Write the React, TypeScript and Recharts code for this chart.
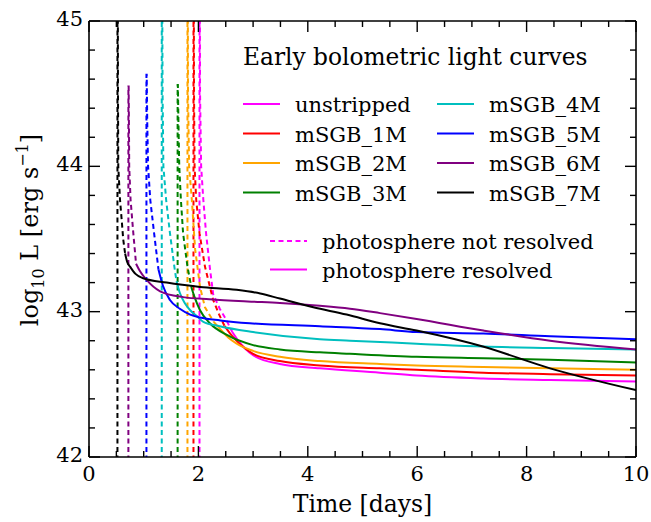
import { Legend, Line, LineChart, XAxis, YAxis } from "recharts"

const FONT = "'DejaVu Serif', serif"
const W = 651
const H = 522

// [time (days), log10 L]; dashed = photosphere not resolved, solid = resolved
const unstrippedDashed = [[2.02, 41.8], [2.02, 45.6], [2.025, 45.6], [2.03, 44.5], [2.05, 44.0], [2.09, 43.77], [2.14, 43.54], [2.21, 43.3], [2.27, 43.12], [2.39, 43.02], [2.5, 42.95], [2.62, 42.86]]
const unstrippedSolid = [[2.62, 42.86], [2.75, 42.79], [3.0, 42.7], [3.49, 42.64], [4.22, 42.61], [5.32, 42.58], [5.99, 42.56], [7.21, 42.54], [8.43, 42.53], [10, 42.52]]

const m1Dashed = [[1.91, 41.8], [1.91, 45.6], [1.915, 45.6], [1.92, 44.5], [1.93, 44.0], [1.96, 43.77], [2.02, 43.54], [2.12, 43.31], [2.27, 43.08], [2.38, 42.98], [2.48, 42.9]]
const m1Solid = [[2.48, 42.9], [2.6, 42.84], [2.75, 42.78], [3.0, 42.71], [3.49, 42.66], [4.22, 42.63], [5.32, 42.61], [5.99, 42.6], [7.21, 42.58], [8.43, 42.57], [10, 42.56]]

const m2Dashed = [[1.8, 41.8], [1.8, 45.6], [1.805, 45.6], [1.81, 44.5], [1.83, 44.0], [1.88, 43.77], [1.94, 43.43], [2.03, 43.17], [2.12, 43.03], [2.28, 42.93]]
const m2Solid = [[2.28, 42.93], [2.4, 42.88], [2.55, 42.82], [2.7, 42.78], [3.0, 42.73], [3.49, 42.69], [4.22, 42.66], [5.32, 42.64], [5.99, 42.63], [7.21, 42.62], [8.43, 42.61], [10, 42.6]]

const m3Dashed = [[1.62, 41.8], [1.62, 44.56], [1.625, 44.56], [1.635, 44.3], [1.65, 44.0], [1.68, 43.77], [1.72, 43.54], [1.8, 43.31], [1.87, 43.17]]
const m3Solid = [[1.87, 43.17], [1.93, 43.1], [2.03, 43.01], [2.21, 42.92], [2.52, 42.84], [3.0, 42.77], [3.49, 42.74], [4.22, 42.72], [4.77, 42.71], [5.99, 42.69], [7.21, 42.68], [8.43, 42.67], [10, 42.65]]

const m4Dashed = [[1.33, 41.8], [1.33, 45.6], [1.335, 45.6], [1.345, 44.5], [1.36, 44.0], [1.41, 43.77], [1.48, 43.54], [1.56, 43.31], [1.6, 43.21]]
const m4Solid = [[1.6, 43.21], [1.66, 43.13], [1.75, 43.06], [1.85, 43.01], [1.97, 42.97], [2.09, 42.93], [2.39, 42.9], [3.0, 42.86], [4.22, 42.81], [4.77, 42.8], [5.99, 42.78], [7.21, 42.76], [8.43, 42.75], [10, 42.74]]

const m5Dashed = [[1.05, 41.8], [1.05, 44.63], [1.055, 44.63], [1.065, 44.3], [1.08, 44.0], [1.12, 43.77], [1.19, 43.54], [1.27, 43.29]]
const m5Solid = [[1.27, 43.29], [1.35, 43.18], [1.48, 43.08], [1.66, 43.02], [1.85, 42.98], [2.03, 42.96], [2.4, 42.94], [2.94, 42.92], [4.22, 42.9], [5.32, 42.88], [5.99, 42.86], [7.21, 42.85], [8.43, 42.83], [10, 42.81]]

const m6Dashed = [[0.72, 41.8], [0.72, 44.55], [0.725, 44.55], [0.73, 44.3], [0.735, 44.0], [0.76, 43.77], [0.81, 43.54], [0.86, 43.33]]
const m6Solid = [[0.86, 43.33], [0.93, 43.28], [1.05, 43.22], [1.3, 43.14], [1.72, 43.1], [2.2, 43.085], [2.9, 43.07], [3.49, 43.06], [4.22, 43.04], [4.77, 43.02], [5.32, 42.99], [5.99, 42.95], [7.21, 42.87], [8.43, 42.8], [10, 42.74]]

const m7Dashed = [[0.52, 41.8], [0.52, 45.6], [0.525, 45.6], [0.53, 44.5], [0.535, 44.0], [0.567, 43.77], [0.6, 43.62], [0.625, 43.5], [0.66, 43.4]]
const m7Solid = [[0.66, 43.4], [0.7, 43.34], [0.75, 43.31], [0.85, 43.26], [0.99, 43.23], [1.42, 43.2], [2.03, 43.17], [2.7, 43.15], [3.13, 43.125], [3.49, 43.09], [4.1, 43.03], [4.71, 42.98], [5.32, 42.92], [5.99, 42.87], [7.2, 42.76], [8.43, 42.61], [10, 42.46]]

const modelNames = ["unstripped", "mSGB_1M", "mSGB_2M", "mSGB_3M", "mSGB_4M", "mSGB_5M", "mSGB_6M", "mSGB_7M"]
const modelColors = ["#ff00ff", "#ff0000", "#ffa500", "#008000", "#00bfbf", "#0000ff", "#800080", "#000000"]
const dashedSets = [unstrippedDashed, m1Dashed, m2Dashed, m3Dashed, m4Dashed, m5Dashed, m6Dashed, m7Dashed]
const solidSets = [unstrippedSolid, m1Solid, m2Solid, m3Solid, m4Solid, m5Solid, m6Solid, m7Solid]

const xMajor = [0, 2, 4, 6, 8, 10]
const yMajor = [42, 43, 44, 45]
const xTicks = Array.from({ length: 21 }, (_, i) => i * 0.5)
const yTicks = Array.from({ length: 16 }, (_, i) => Math.round((42 + i * 0.2) * 10) / 10)

const toPoints = (rows: number[][]) => rows.map(([t, L]) => ({ t, L }))

const isMajor = (majors: number[], v: number) => majors.some((m) => Math.abs(m - v) < 1e-6)

function makeTick(side: "bottom" | "top" | "left" | "right", majors: number[]) {
  return (props: any) => {
    const { x, y, payload } = props
    const major = isMajor(majors, payload.value)
    const len = major ? 11 : 6
    const line = { stroke: "#000", strokeWidth: 1.4 }
    if (side === "bottom") {
      return (
        <g>
          <line x1={x} y1={y} x2={x} y2={y - len} {...line} />
          {major && (
            <text x={x} y={y + 24} textAnchor="middle" fontFamily={FONT} fontSize={21} fill="#000">
              {payload.value}
            </text>
          )}
        </g>
      )
    }
    if (side === "top") return <line x1={x} y1={y} x2={x} y2={y + len} {...line} />
    if (side === "left") {
      return (
        <g>
          <line x1={x} y1={y} x2={x + len} y2={y} {...line} />
          {major && (
            <text x={x - 6} y={y + 5} textAnchor="end" fontFamily={FONT} fontSize={21} fill="#000">
              {payload.value}
            </text>
          )}
        </g>
      )
    }
    return <line x1={x} y1={y} x2={x - len} y2={y} {...line} />
  }
}

function XTitle(props: any) {
  const { x, y, width } = props.viewBox
  return (
    <text x={x + width / 2} y={y + 55} textAnchor="middle" fontFamily={FONT} fontSize={23.5} fill="#000">
      Time [days]
    </text>
  )
}

function YTitle(props: any) {
  const { x, y, height } = props.viewBox
  const cx = x - 50
  const cy = y + height / 2 - 9
  return (
    <text x={cx} y={cy} transform={`rotate(-90 ${cx} ${cy})`} textAnchor="middle" fontFamily={FONT} fontSize={24} fill="#000">
      log
      <tspan fontSize={16} dy={6}>10</tspan>
      <tspan dy={-6}> L [erg s</tspan>
      <tspan fontSize={16} dy={-10}>−1</tspan>
      <tspan dy={10}>]</tspan>
    </text>
  )
}

function LegendBox() {
  const rowY = [104, 133.5, 163, 192.5]
  return (
    <svg width={W} height={H} style={{ position: "absolute", left: 0, top: 0 }}>
      <text x={243} y={65} fontFamily={FONT} fontSize={23.3} fill="#000">
        Early bolometric light curves
      </text>
      {modelNames.map((name, i) => {
        const col = i < 4 ? 0 : 1
        const ly = rowY[i % 4]
        const lx = col === 0 ? 243 : 437
        return (
          <g key={name}>
            <line x1={lx} y1={ly} x2={lx + 37} y2={ly} stroke={modelColors[i]} strokeWidth={2} />
            <text x={lx + 52} y={ly + 8} fontFamily={FONT} fontSize={21} fill="#000">
              {name}
            </text>
          </g>
        )
      })}
      <line x1={270} y1={241} x2={307} y2={241} stroke="#ff00ff" strokeWidth={2} strokeDasharray="5 3.5" />
      <text x={322} y={249} fontFamily={FONT} fontSize={21} fill="#000">
        photosphere not resolved
      </text>
      <line x1={270} y1={269.5} x2={307} y2={269.5} stroke="#ff00ff" strokeWidth={2} />
      <text x={322} y={277.5} fontFamily={FONT} fontSize={21} fill="#000">
        photosphere resolved
      </text>
    </svg>
  )
}

export default function App() {
  return (
    <div style={{ position: "absolute", left: 0, top: 0, width: W, height: H, background: "#fff" }}>
      <LineChart width={W} height={H} margin={{ top: 20, right: 14, bottom: 64, left: 88 }}>
        <XAxis
          xAxisId="b"
          type="number"
          dataKey="t"
          domain={[0, 10]}
          ticks={xTicks}
          interval={0}
          allowDataOverflow
          height={1}
          tickSize={0}
          tickMargin={0}
          tick={makeTick("bottom", xMajor)}
          tickLine={false}
          axisLine={{ stroke: "#000", strokeWidth: 1.6 }}
          label={{ content: XTitle }}
        />
        <XAxis
          xAxisId="t"
          orientation="top"
          type="number"
          dataKey="t"
          domain={[0, 10]}
          ticks={xTicks}
          interval={0}
          allowDataOverflow
          height={1}
          tickSize={0}
          tickMargin={0}
          tick={makeTick("top", xMajor)}
          tickLine={false}
          axisLine={{ stroke: "#000", strokeWidth: 1.6 }}
        />
        <YAxis
          yAxisId="l"
          type="number"
          dataKey="L"
          domain={[42, 45]}
          ticks={yTicks}
          interval={0}
          allowDataOverflow
          width={1}
          tickSize={0}
          tickMargin={0}
          tick={makeTick("left", yMajor)}
          tickLine={false}
          axisLine={{ stroke: "#000", strokeWidth: 1.6 }}
          label={{ content: YTitle }}
        />
        <YAxis
          yAxisId="r"
          orientation="right"
          type="number"
          dataKey="L"
          domain={[42, 45]}
          ticks={yTicks}
          interval={0}
          allowDataOverflow
          width={1}
          tickSize={0}
          tickMargin={0}
          tick={makeTick("right", yMajor)}
          tickLine={false}
          axisLine={{ stroke: "#000", strokeWidth: 1.6 }}
        />
        {modelNames.map((name, i) => [
          <Line
            key={name + "-d"}
            xAxisId="b"
            yAxisId="l"
            data={toPoints(dashedSets[i])}
            dataKey="L"
            type="linear"
            stroke={modelColors[i]}
            strokeWidth={2}
            strokeDasharray="5 3.5"
            dot={false}
            isAnimationActive={false}
          />,
          <Line
            key={name + "-s"}
            xAxisId="b"
            yAxisId="l"
            data={toPoints(solidSets[i])}
            dataKey="L"
            type="monotone"
            stroke={modelColors[i]}
            strokeWidth={2}
            dot={false}
            isAnimationActive={false}
          />,
        ])}
        <Legend layout="vertical" align="center" verticalAlign="middle" content={LegendBox} wrapperStyle={{ left: 0, top: 0, width: W, height: H }} />
      </LineChart>
    </div>
  )
}
